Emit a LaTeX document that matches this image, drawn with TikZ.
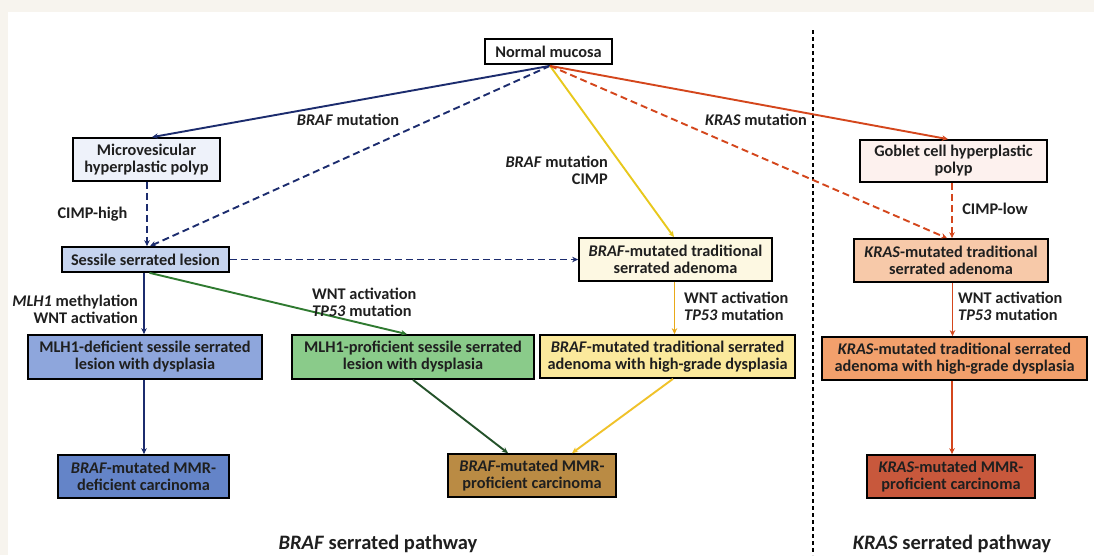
\documentclass[tikz,border=0pt]{standalone}
\usepackage{fontspec}
\setmainfont{Carlito}
\usetikzlibrary{arrows.meta}
\definecolor{navy}{HTML}{1C2C6E}
\definecolor{grn}{HTML}{2F7A30}
\definecolor{dgrn}{HTML}{24522A}
\definecolor{ylw}{HTML}{E8C81C}
\definecolor{gold}{HTML}{E9A918}
\definecolor{ylw2}{HTML}{F0C22A}
\definecolor{red1}{HTML}{D4461C}
\definecolor{cream}{HTML}{F7F4EE}
\definecolor{fmvp}{HTML}{EEF2FA}
\definecolor{fssl}{HTML}{C6D4EF}
\definecolor{fmdef}{HTML}{8EA6DC}
\definecolor{fbdef}{HTML}{6484C8}
\definecolor{fmprof}{HTML}{8ACB8A}
\definecolor{fbtsa}{HTML}{FDF8E2}
\definecolor{fbhgd}{HTML}{FBE99C}
\definecolor{fbprof}{HTML}{BA8B44}
\definecolor{fgob}{HTML}{FDF1EE}
\definecolor{fktsa}{HTML}{F7C9A9}
\definecolor{fkhgd}{HTML}{F2A06C}
\definecolor{fkcar}{HTML}{C8583C}
\tikzset{
  box/.style={draw=black, line width=1.7pt, align=center, inner sep=0pt,
    font=\bfseries\fontsize{16.3}{17}\selectfont, text=black!88},
  lbl/.style={inner sep=0pt, font=\bfseries\fontsize{16.3}{17}\selectfont, text=black!88},
  ttl/.style={inner sep=0pt, font=\bfseries\fontsize{20.5}{24}\selectfont, text=black!88},
  arr/.style={line width=1.9pt, -{Stealth[length=6pt,width=5.5pt]}},
  dsh/.style={dash pattern=on 7pt off 4pt},
}
\begin{document}
\begin{tikzpicture}[x=1pt,y=-1pt]
\path[use as bounding box, fill=cream] (0,0) rectangle (1094,555);
\fill[white] (8,12) rectangle (1094,555);
% divider
\draw[black, line width=1.3pt, dash pattern=on 4pt off 3pt] (813,30) -- (813,555);
% nodes
\node[box, fill=white, minimum width=127pt, minimum height=25pt] (nm) at (548.5,51.5) {Normal mucosa};
\node[box, fill=fmvp, minimum width=147pt, minimum height=43pt] (mvp) at (146.5,159.5) {Microvesicular\\hyperplastic polyp};
\node[box, fill=fssl, minimum width=167pt, minimum height=25pt] (ssl) at (145.5,259.5) {Sessile serrated lesion};
\node[box, fill=fmdef, minimum width=234pt, minimum height=44pt] (mdef) at (145,357) {MLH1-deficient sessile serrated\\lesion with dysplasia};
\node[box, fill=fbdef, minimum width=171pt, minimum height=43pt] (bdef) at (143.5,476.5) {\textit{BRAF}-mutated MMR-\\deficient carcinoma};
\node[box, fill=fmprof, minimum width=242pt, minimum height=44pt] (mprof) at (413,357) {MLH1-proficient sessile serrated\\lesion with dysplasia};
\node[box, fill=fbtsa, minimum width=193pt, minimum height=43pt] (btsa) at (675.5,259.5) {\textit{BRAF}-mutated traditional\\serrated adenoma};
\node[box, fill=fbhgd, minimum width=255pt, minimum height=43pt] (bhgd) at (667.5,356.5) {\textit{BRAF}-mutated traditional serrated\\adenoma with high-grade dysplasia};
\node[box, fill=fbprof, minimum width=168pt, minimum height=43pt] (bprof) at (532,475.5) {\textit{BRAF}-mutated MMR-\\proficient carcinoma};
\node[box, fill=fgob, minimum width=187pt, minimum height=42pt] (gob) at (953.5,161) {Goblet cell hyperplastic\\polyp};
\node[box, fill=fktsa, minimum width=194pt, minimum height=43pt] (ktsa) at (951,260.5) {\textit{KRAS}-mutated traditional\\serrated adenoma};
\node[box, fill=fkhgd, minimum width=265pt, minimum height=43pt] (khgd) at (954.5,358.5) {\textit{KRAS}-mutated traditional serrated\\adenoma with high-grade dysplasia};
\node[box, fill=fkcar, minimum width=168pt, minimum height=43pt] (kcar) at (951,476.5) {\textit{KRAS}-mutated MMR-\\proficient carcinoma};
% coordinates
\coordinate (nmb) at ([xshift=1.5pt,yshift=-1pt]nm.south);
\coordinate (mvpb) at ([xshift=0.5pt]mvp.south);
\coordinate (sslb1) at ([xshift=-1.5pt]ssl.south);
\coordinate (sslb2) at ([xshift=4pt]ssl.south);
\coordinate (mdefb) at ([xshift=-1pt]mdef.south);
\coordinate (btsab) at ([xshift=-1pt]btsa.south);
\coordinate (gobb) at ([xshift=-1.5pt]gob.south);
\coordinate (ktsab) at ([xshift=1.5pt]ktsa.south);
\coordinate (khgdb) at ([xshift=-2.5pt]khgd.south);
% connectors
\draw[arr, navy] (nmb) -- ([xshift=5.5pt]mvp.north);
\draw[arr, navy, dsh] (nmb) -- ([xshift=4.5pt]ssl.north);
\draw[arr, navy, dsh] (mvpb) -- (mvpb |- ssl.north);
\draw[arr, navy, dsh] (ssl.east) -- (btsa.west);
\draw[arr, navy] (sslb1) -- (sslb1 |- mdef.north);
\draw[arr, grn] (sslb2) -- ([xshift=-6pt]mprof.north);
\draw[arr, navy] (mdefb) -- (mdefb |- bdef.north);
\draw[arr, dgrn] (mprof.south) -- ([xshift=-24pt]bprof.north);
\draw[arr, ylw2] ([xshift=5.5pt]bhgd.south) -- ([xshift=40pt]bprof.north);
\draw[arr, ylw] (nmb) -- ([xshift=-1.5pt]btsa.north);
\draw[arr, gold] (btsab) -- (btsab |- bhgd.north);
\draw[arr, red1] (nmb) -- ([xshift=-5.5pt]gob.north);
\draw[arr, red1, dsh] (nmb) -- ([xshift=-4pt]ktsa.north);
\draw[arr, red1, dsh] (gobb) -- (gobb |- ktsa.north);
\draw[arr, red1] (ktsab) -- (ktsab |- khgd.north);
\draw[arr, red1] (khgdb) -- (khgdb |- kcar.north);
% labels
\node[lbl] (l1) at (348,120) {\textit{BRAF} mutation};
\node[lbl] (l2) at (756,120) {\textit{KRAS} mutation};
\node[lbl, align=right, anchor=east] (l3) at (608,170) {\textit{BRAF} mutation\\CIMP};
\node[lbl] (l4) at (92.5,214) {CIMP-high};
\node[lbl] (l5) at (995,209) {CIMP-low};
\node[lbl, align=right, anchor=east] (l6) at (138,309) {\textit{MLH1} methylation\\WNT activation};
\node[lbl, align=left, anchor=west] (l7) at (312,302) {WNT activation\\\textit{TP53} mutation};
\node[lbl, align=left, anchor=west] (l8) at (684,306) {WNT activation\\\textit{TP53} mutation};
\node[lbl, align=left, anchor=west] (l9) at (958,306) {WNT activation\\\textit{TP53} mutation};
\node[ttl] (t1) at (378,544) {\textit{BRAF} serrated pathway};
\node[ttl] (t2) at (952,544) {\textit{KRAS} serrated pathway};
\end{tikzpicture}
\end{document}
